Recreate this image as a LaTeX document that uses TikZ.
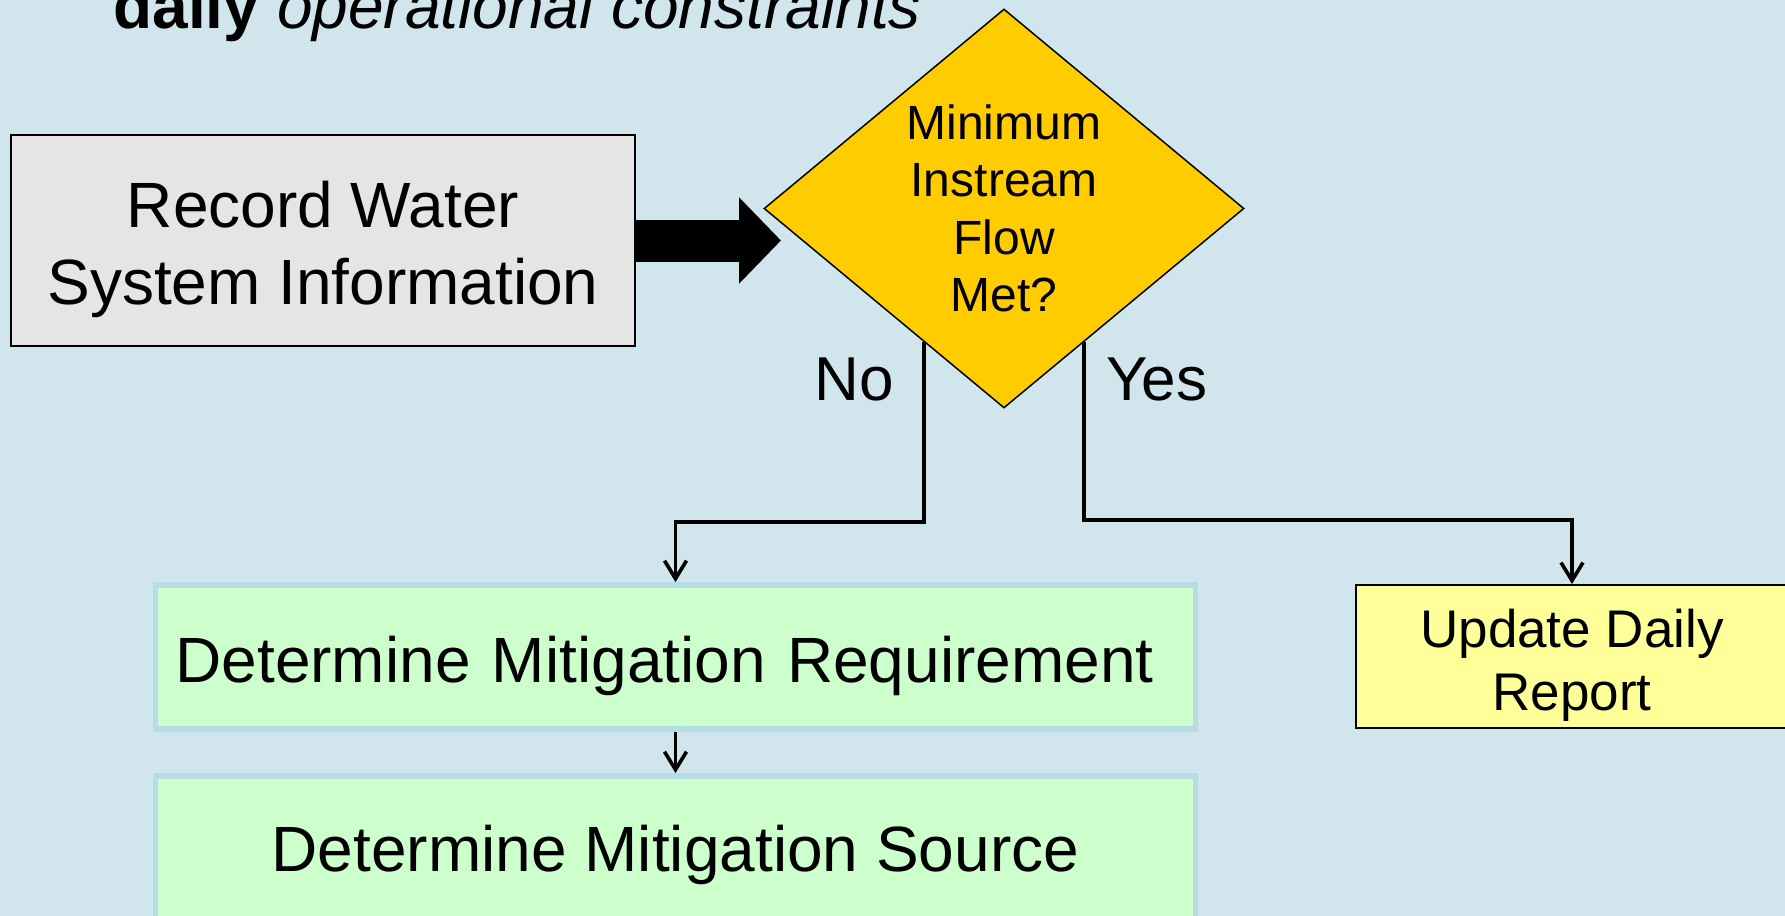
\documentclass[tikz,border=0pt]{standalone}
\usepackage{fontspec}
\setmainfont{Liberation Sans}
\usepackage{xcolor}
\usetikzlibrary{arrows.meta,positioning,shapes.geometric,calc}

\definecolor{slide}{RGB}{208,230,236}
\definecolor{boxgray}{RGB}{229,229,229}
\definecolor{gold}{RGB}{255,204,0}
\definecolor{mint}{RGB}{204,255,204}
\definecolor{rimblue}{RGB}{183,221,228}
\definecolor{lemon}{RGB}{255,255,153}

% lower a line of text inside its box
\newcommand{\lowr}[1]{\raisebox{-4.5pt}[\height][\depth]{#1}}

\begin{document}
\begin{tikzpicture}[x=0.5pt, y=-0.5pt,
    proc/.style={draw, line width=1pt, fill=boxgray, align=center, font=\fontsize{32}{38.5}\selectfont, minimum width=312pt, minimum height=105.5pt},
    dec/.style={diamond, draw, line width=.75pt, fill=gold, align=center, aspect=1.2, inner sep=0pt, font=\fontsize{24}{28.75}\selectfont, minimum width=240pt, minimum height=199.5pt},
    act/.style={draw=rimblue, line width=2.9pt, fill=mint, font=\fontsize{32}{38.5}\selectfont, minimum width=520pt, minimum height=72pt},
    rep/.style={draw, line width=1pt, fill=lemon, align=center, font=\fontsize{26.5}{31.3}\selectfont, minimum width=216pt, minimum height=71.5pt},
    edge/.style={-{Straight Barb[length=9pt,width=11pt]}, line width=1.8pt},
    big/.style={-{Triangle[length=21pt,width=42pt]}, line width=21pt},
    lab/.style={font=\fontsize{31}{37}\selectfont, inner sep=0pt},
    title/.style={font=\fontsize{32}{38.5}\selectfont, inner sep=0pt}
  ]
    \useasboundingbox (0,0) rectangle (1785,916);
    \clip (0,0) rectangle (1785,916);
    \fill[slide] (0,0) rectangle (1785,916);

    \node[title, anchor=base west] (head) at (113,28) {\textbf{daily} \textit{operational constraints}};

    \node[proc] (rec) at (323,240.5) {\lowr{Record Water}\\\lowr{System Information}};
    \node[dec] (flow) at (1004,208.5) {Minimum\\Instream\\Flow\\Met?};
    \node[act, text width=500pt, inner xsep=10pt, align=left] (req) at (675.5,657) {\lowr{Determine Mitigation Requirement}};
    \node[act, align=center] (src) at (675.5,848) {\raisebox{-3.5pt}[\height][\depth]{Determine Mitigation Source}};
    \node[rep] (upd) at (1572,656.5) {\lowr{Update Daily}\\\lowr{Report}};

    \coordinate (tip) at (781,240.5);
    \coordinate (no) at ($(flow.west)!2/3!(flow.south)$);
    \coordinate (yes) at ($(flow.south)!1/3!(flow.east)$);

    \draw[big] (rec.east) -- (tip);
    \draw[edge] (no) -- node[lab, pos=.21, anchor=east, xshift=-14pt] (nolab) {No} ++(0,180) -| (req.north);
    \draw[edge] (yes) -- node[lab, pos=.21, anchor=west, xshift=10pt] (yeslab) {Yes} ++(0,178) -| (upd.north);
    \draw[edge] (req.south) -- (src.north);
  \end{tikzpicture}
\end{document}
